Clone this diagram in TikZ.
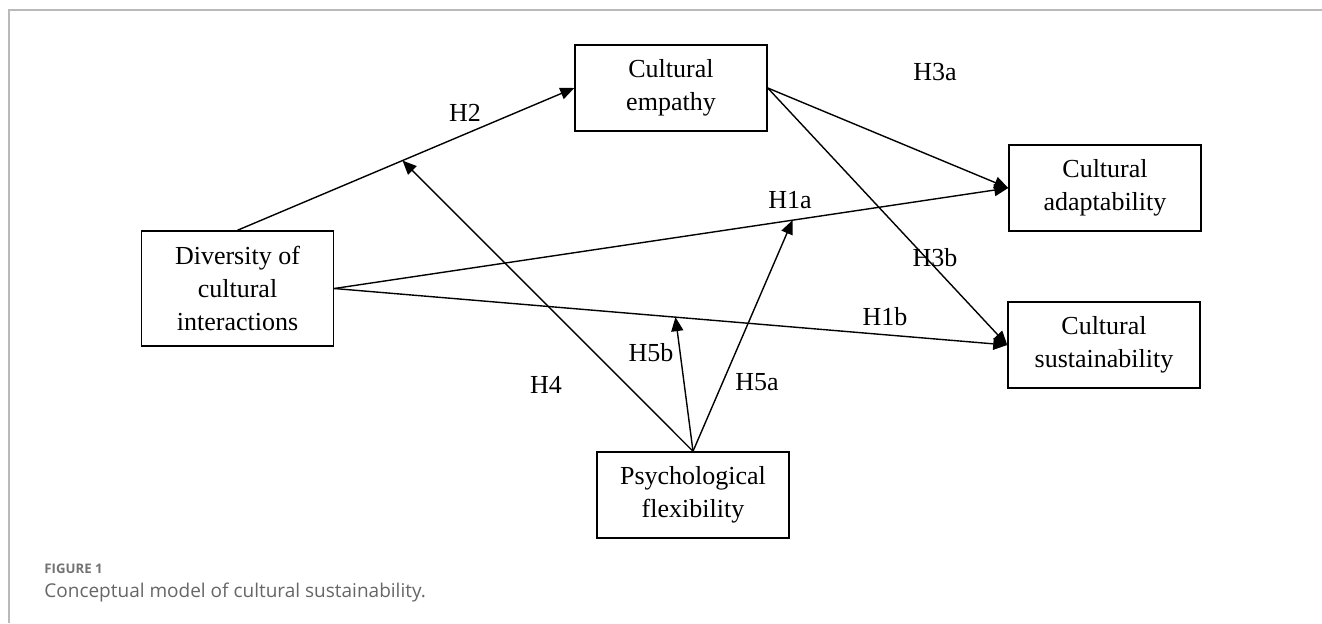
\documentclass[tikz,border=0pt]{standalone}
\usepackage{fontspec}
\setmainfont{Liberation Serif}
\newfontfamily\capfont{Open Sans}
\usetikzlibrary{arrows.meta,calc}

\tikzset{
  box/.style={draw, line width=0.75pt, align=center, inner sep=0pt,
    minimum width=96pt, minimum height=43pt,
    font=\fontsize{13}{16.5}\selectfont},
  link/.style={line width=0.7pt, -{Triangle[length=7pt,width=6pt]}},
  hyp/.style={inner sep=0pt, font=\fontsize{13}{15}\selectfont},
}

\begin{document}
\begin{tikzpicture}[x=0.5pt,y=-0.5pt]
    \useasboundingbox (0,0) rectangle (1322,623);

    % Marco
    \draw[gray!55, line width=1pt] (9,623) -- (9,10) -- (1322,10);

    % Cajas
    \node[box] (emp) at (671,88) {Cultural\\empathy};
    \node[box, minimum height=57.5pt] (div) at (237.5,288.5) {Diversity of\\cultural\\interactions};
    \node[box] (adapt) at (1105,188) {Cultural\\adaptability};
    \node[box] (sust) at (1104,345) {Cultural\\sustainability};
    \node[box] (psy) at (693,495) {Psychological\\flexibility};

    % Efectos directos
    \draw[link] (div.north) -- (emp.west);
    \draw[link] (emp.east) -- (adapt.west);
    \draw[link] (emp.east) -- (sust.west);
    \draw[link] (div.east) -- (adapt.west);
    \draw[link] (div.east) -- (sust.west);

    % Moderacion
    \coordinate (h4end) at ($(div.north)!0.49!(emp.west)$);
    \coordinate (h5bend) at ($(div.east)!0.507!(sust.west)$);
    \coordinate (h5aend) at ($(div.east)!0.68!(adapt.west)$);
    \draw[link] (psy.north) -- (h4end);
    \draw[link] (psy.north) -- (h5bend);
    \draw[link] (psy.north) -- (h5aend);

    % Etiquetas
    \node[hyp] (lH2) at (465,113) {H2};
    \node[hyp] (lH3a) at (935,72) {H3a};
    \node[hyp] (lH1a) at (790,200) {H1a};
    \node[hyp] (lH3b) at (935,258) {H3b};
    \node[hyp] (lH1b) at (885,317) {H1b};
    \node[hyp] (lH4) at (546,385) {H4};
    \node[hyp] (lH5b) at (651,353) {H5b};
    \node[hyp] (lH5a) at (757,382) {H5a};

    % Pie de figura
    \node[anchor=west, inner sep=0pt, text=black!55] (fig) at (44,569)
      {\capfont\bfseries\fontsize{6.6}{7}\selectfont FIGURE 1};
    \node[anchor=base west, inner sep=0pt, text=black!60] (cap) at (44,597)
      {\capfont\fontsize{9.5}{11}\selectfont Conceptual model of cultural sustainability.};

\end{tikzpicture}
\end{document}
